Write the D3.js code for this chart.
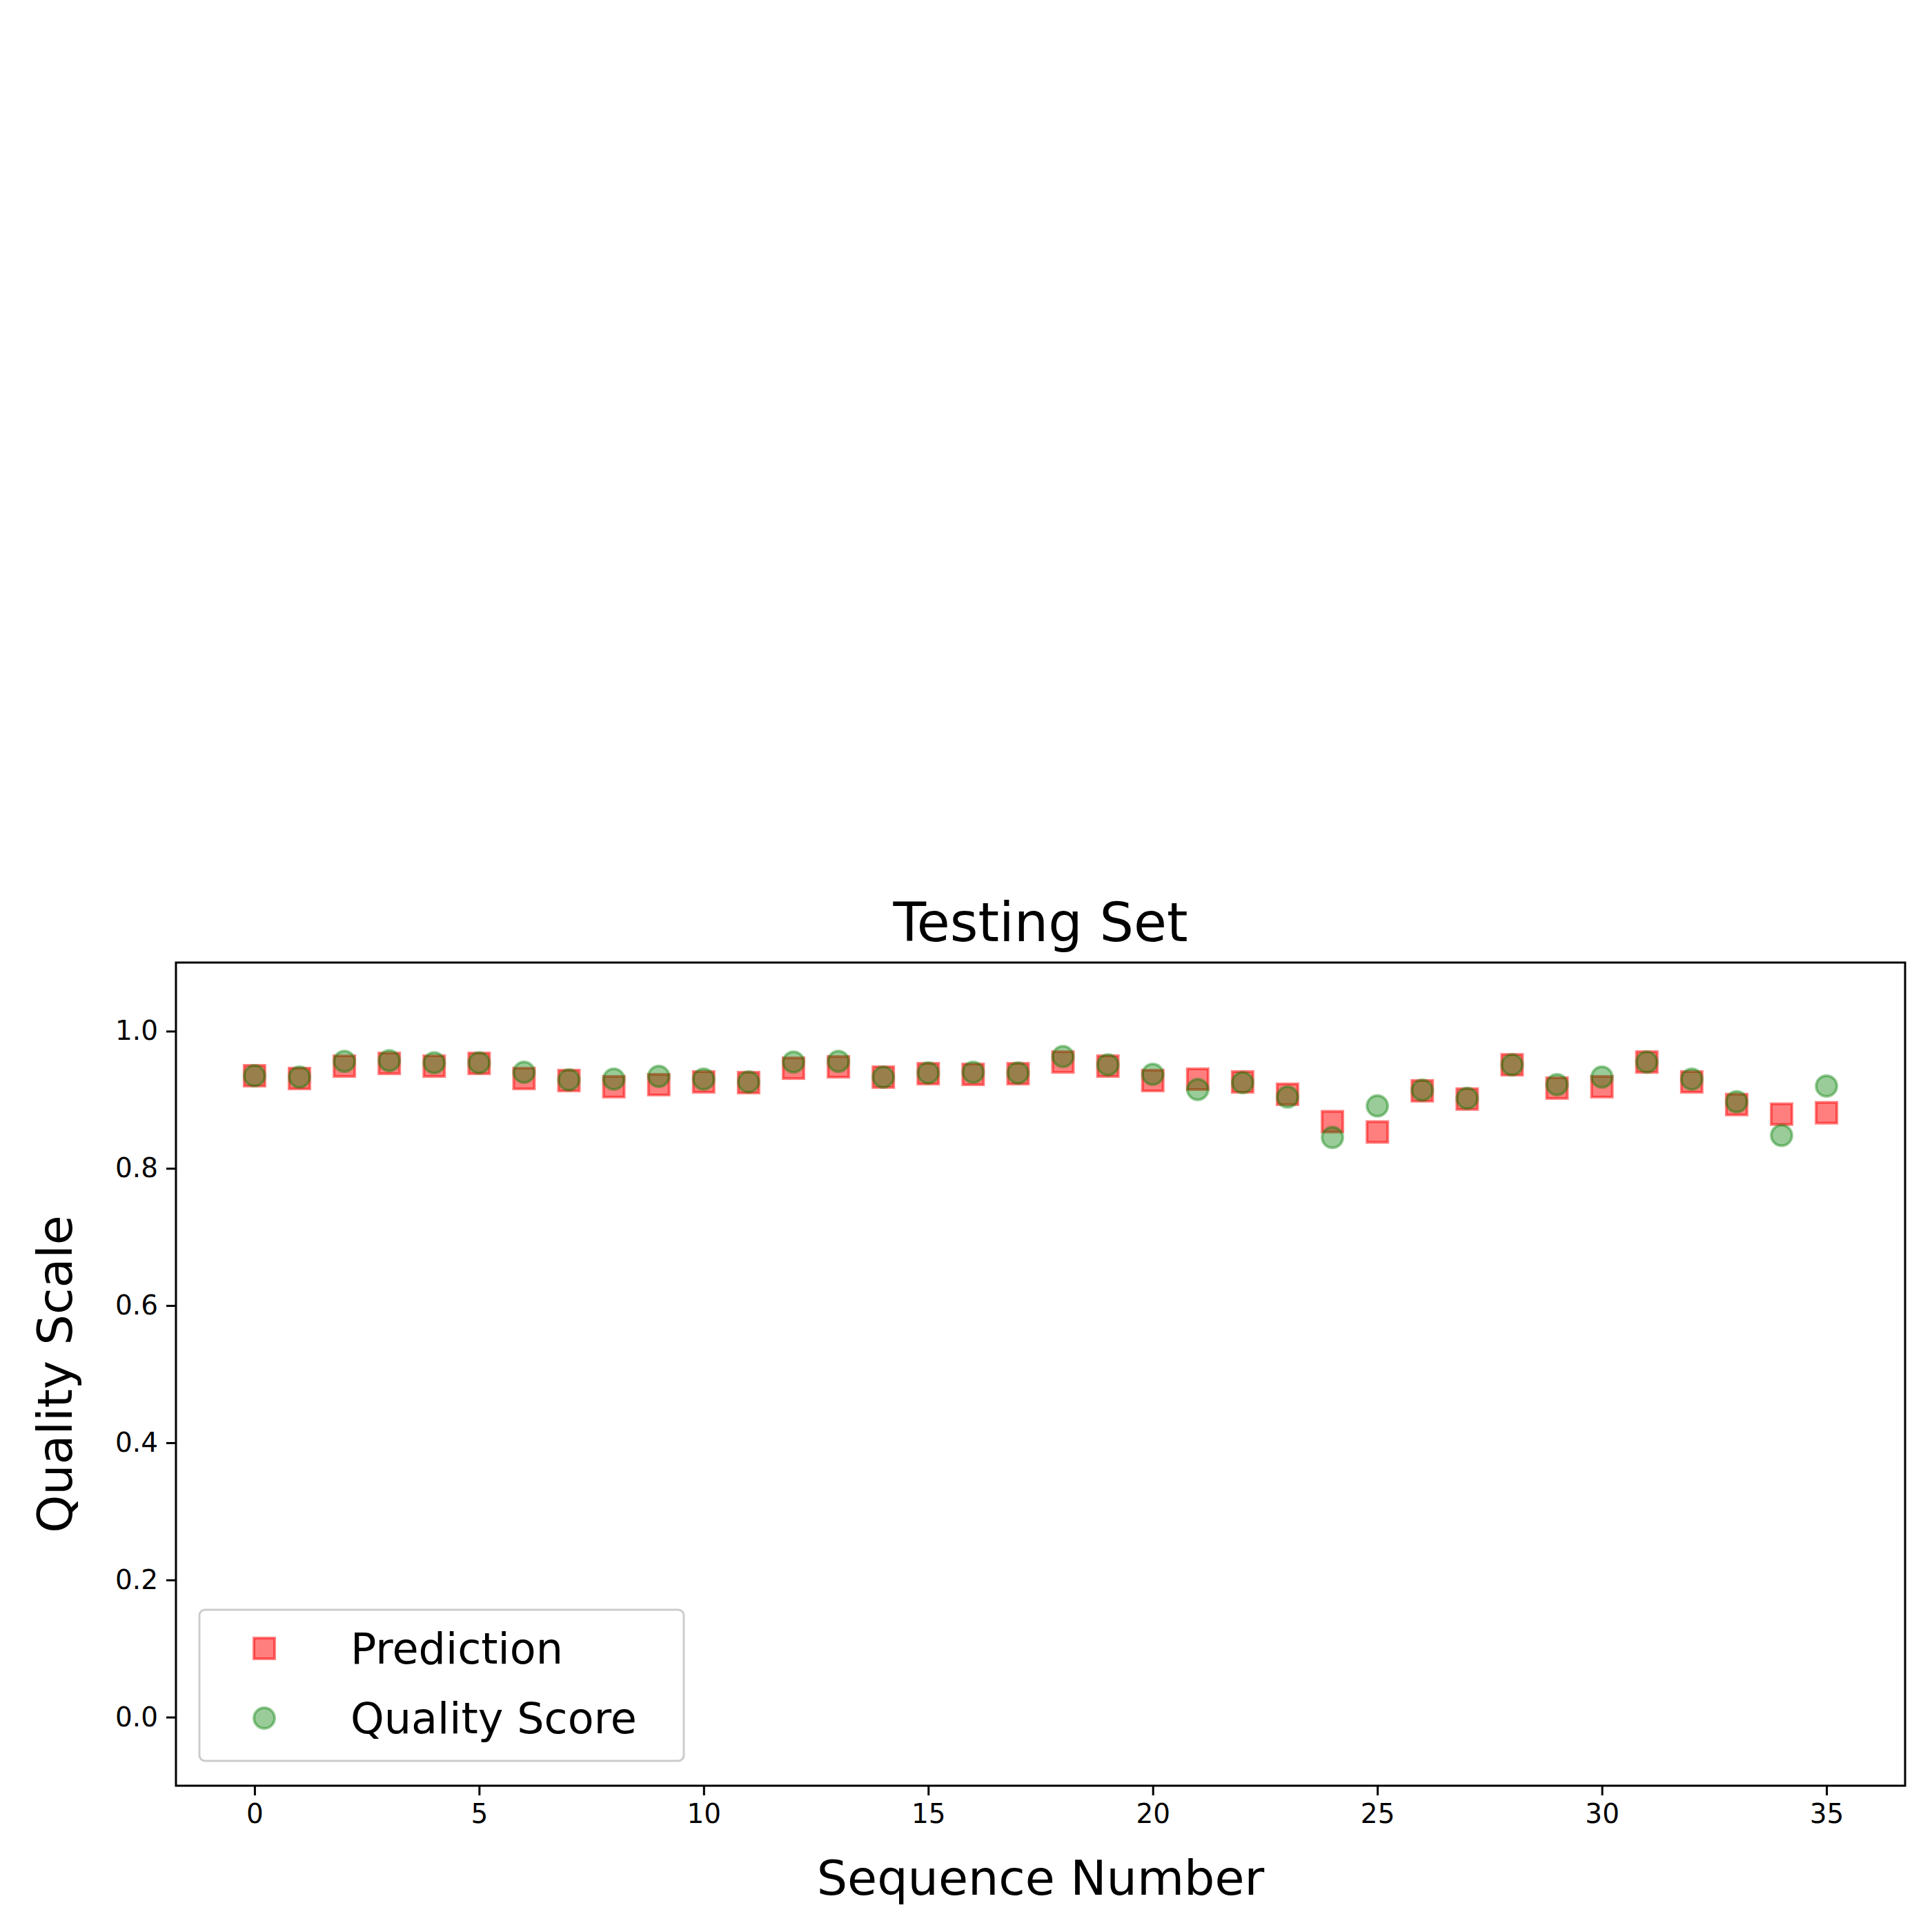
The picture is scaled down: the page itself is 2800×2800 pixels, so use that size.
<!DOCTYPE html>
<html lang="en">
<head>
<meta charset="utf-8">
<title>Testing Set</title>
<script src="https://cdn.jsdelivr.net/npm/d3@7"></script>
<style>
  body { margin: 0; background: white; }
  text { font-family: "DejaVu Sans", sans-serif; }
</style>
</head>
<body>
<script>
// values
var sequence = d3.range(36);
var prediction = [0.935, 0.931, 0.949, 0.953, 0.949, 0.953, 0.931, 0.928, 0.919, 0.922,
                  0.926, 0.925, 0.946, 0.948, 0.933, 0.938, 0.937, 0.938, 0.955, 0.949,
                  0.928, 0.930, 0.926, 0.908, 0.868, 0.853, 0.913, 0.901, 0.951, 0.917,
                  0.919, 0.955, 0.926, 0.893, 0.879, 0.881];
var quality = [0.935, 0.933, 0.956, 0.957, 0.954, 0.954, 0.940, 0.929, 0.930, 0.934,
               0.930, 0.926, 0.955, 0.956, 0.933, 0.939, 0.940, 0.939, 0.963, 0.951,
               0.937, 0.915, 0.925, 0.904, 0.845, 0.891, 0.914, 0.902, 0.951, 0.922,
               0.933, 0.955, 0.930, 0.897, 0.848, 0.920];
var xTicks = [0, 5, 10, 15, 20, 25, 30, 35];
var yTicks = [0.0, 0.2, 0.4, 0.6, 0.8, 1.0];

var W = 2800, H = 2800;
var mLeft = 255, mRight = 2761, mTop = 1395, mBottom = 2588;

var svg = d3.select("body").append("svg")
    .attr("width", W).attr("height", H);

var x = d3.scaleLinear().domain([-1.75, 36.75]).range([mLeft, mRight]);
var y = d3.scaleLinear().domain([-0.1, 1.1]).range([mBottom, mTop]);

var tickFont = 39;

// x axis
var xAxis = svg.append("g")
    .attr("transform", "translate(0," + mBottom + ")")
    .call(d3.axisBottom(x).tickValues(xTicks).tickSize(14).tickPadding(12).tickFormat(d3.format("d")));
xAxis.selectAll("text").attr("font-size", tickFont).attr("font-family", "DejaVu Sans").attr("fill", "black");
xAxis.selectAll("line").attr("stroke-width", 3);
xAxis.select(".domain").remove();

// y axis
var yAxis = svg.append("g")
    .attr("transform", "translate(" + mLeft + ",0)")
    .call(d3.axisLeft(y).tickValues(yTicks).tickSize(14).tickPadding(12).tickFormat(d3.format(".1f")));
yAxis.selectAll("text").attr("font-size", tickFont).attr("font-family", "DejaVu Sans").attr("fill", "black");
yAxis.selectAll("line").attr("stroke-width", 3);
yAxis.select(".domain").remove();

// frame
svg.append("rect")
    .attr("x", mLeft).attr("y", mTop)
    .attr("width", mRight - mLeft).attr("height", mBottom - mTop)
    .attr("fill", "none").attr("stroke", "black").attr("stroke-width", 3);

var ms = 30;

// prediction squares
svg.selectAll("rect.pred")
    .data(prediction)
    .enter().append("rect")
    .attr("class", "pred")
    .attr("x", function(d, i) { return x(sequence[i]) - ms / 2; })
    .attr("y", function(d) { return y(d) - ms / 2; })
    .attr("width", ms).attr("height", ms)
    .attr("fill", "red").attr("fill-opacity", 0.5)
    .attr("stroke", "red").attr("stroke-opacity", 0.5).attr("stroke-width", 4);

// quality circles
svg.selectAll("circle.qual")
    .data(quality)
    .enter().append("circle")
    .attr("class", "qual")
    .attr("cx", function(d, i) { return x(sequence[i]); })
    .attr("cy", function(d) { return y(d); })
    .attr("r", ms / 2)
    .attr("fill", "green").attr("fill-opacity", 0.4)
    .attr("stroke", "green").attr("stroke-opacity", 0.4).attr("stroke-width", 4);

// title and labels
svg.append("text")
    .attr("x", (mLeft + mRight) / 2).attr("y", 1364)
    .attr("text-anchor", "middle").attr("font-size", 78)
    .text("Testing Set");

svg.append("text")
    .attr("x", (mLeft + mRight) / 2).attr("y", 2746)
    .attr("text-anchor", "middle").attr("font-size", 70)
    .text("Sequence Number");

svg.append("text")
    .attr("transform", "translate(104," + (mTop + mBottom) / 2 + ") rotate(-90)")
    .attr("text-anchor", "middle").attr("font-size", 70)
    .text("Quality Scale");

// legend
var lg = svg.append("g");
lg.append("rect")
    .attr("x", 289).attr("y", 2333).attr("width", 702).attr("height", 219)
    .attr("rx", 8).attr("fill", "white").attr("fill-opacity", 0.8)
    .attr("stroke", "#cccccc").attr("stroke-width", 3);
lg.append("rect")
    .attr("x", 383 - ms / 2).attr("y", 2389 - ms / 2).attr("width", ms).attr("height", ms)
    .attr("fill", "red").attr("fill-opacity", 0.5)
    .attr("stroke", "red").attr("stroke-opacity", 0.5).attr("stroke-width", 4);
lg.append("circle")
    .attr("cx", 383).attr("cy", 2490).attr("r", ms / 2)
    .attr("fill", "green").attr("fill-opacity", 0.4)
    .attr("stroke", "green").attr("stroke-opacity", 0.4).attr("stroke-width", 4);
lg.append("text").attr("x", 508).attr("y", 2389).attr("dy", "0.35em")
    .attr("font-size", 62).text("Prediction");
lg.append("text").attr("x", 508).attr("y", 2490).attr("dy", "0.35em")
    .attr("font-size", 62).text("Quality Score");
</script>
</body>
</html>
